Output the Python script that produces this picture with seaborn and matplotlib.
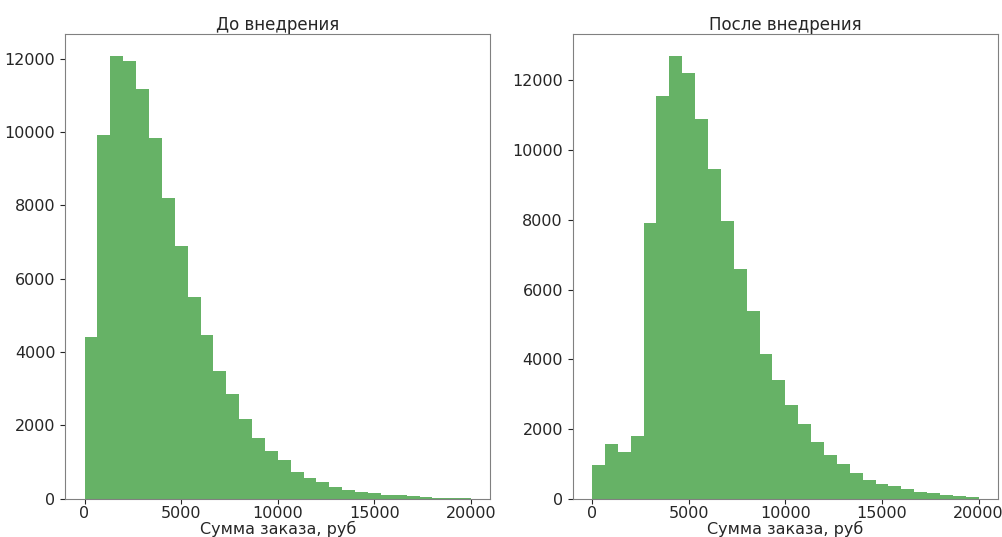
import numpy as np
import pandas as pd
import matplotlib
matplotlib.use("Agg")
import matplotlib.pyplot as plt
import seaborn as sns

# bin edges: 30 equal bins between 0 and 20000
bin_edges = np.linspace(0, 20000, 31)
bin_centers = (bin_edges[:-1] + bin_edges[1:]) / 2

# counts per bin
counts_before = [4420, 9910, 12070, 11940, 11180, 9830, 8190, 6890, 5510, 4455,
                 3490, 2860, 2180, 1670, 1310, 1055, 745, 565, 455, 320,
                 245, 180, 155, 100, 100, 65, 55, 36, 36, 27]
counts_after = [985, 1560, 1340, 1800, 7900, 11550, 12700, 12220, 10880, 9445,
                7970, 6580, 5390, 4160, 3395, 2685, 2140, 1625, 1245, 995,
                755, 535, 420, 355, 295, 190, 155, 105, 95, 57]

titles = ["До внедрения", "После внедрения"]
xlabel = "Сумма заказа, руб"

plt.rcParams["font.family"] = ["DejaVu Sans"]
plt.rcParams["text.color"] = "#262626"
plt.rcParams["axes.labelcolor"] = "#262626"
plt.rcParams["xtick.color"] = "#262626"
plt.rcParams["ytick.color"] = "#262626"

fig = plt.figure(figsize=(10.03, 5.37), dpi=100)
ax1 = fig.add_axes([0.065, 0.071, 0.424, 0.866])
ax2 = fig.add_axes([0.571, 0.071, 0.424, 0.866])

for ax, counts, title in zip([ax1, ax2], [counts_before, counts_after], titles):
    df = pd.DataFrame({"amount": bin_centers, "count": counts})
    sns.histplot(data=df, x="amount", weights="count", bins=list(bin_edges), ax=ax,
                 color="g", alpha=0.6, linewidth=0, element="bars")
    ax.set_title(title, fontsize=12, pad=3)
    ax.set_xlabel(xlabel, fontsize=11.5, labelpad=0)
    ax.set_ylabel("")
    ax.set_xticks([0, 5000, 10000, 15000, 20000])
    ax.tick_params(labelsize=11.5)
    ax.tick_params(axis="x", pad=1.5)
    for s in ax.spines.values():
        s.set_color("#808080")

fig.savefig("out.png", dpi=100)
